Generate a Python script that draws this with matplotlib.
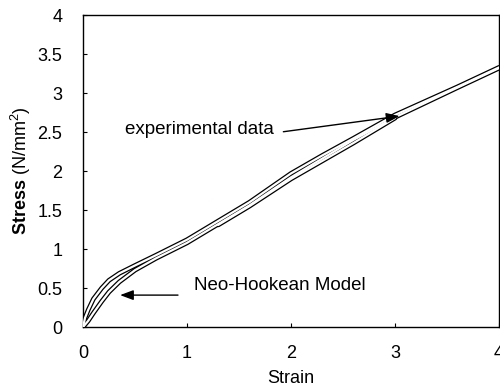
import matplotlib
matplotlib.use("Agg")
import matplotlib.pyplot as plt
import numpy as np

plt.rcParams['font.family'] = ['Liberation Sans', 'DejaVu Sans']
plt.rcParams['mathtext.fontset'] = 'custom'
plt.rcParams['mathtext.rm'] = 'Liberation Sans'
plt.rcParams['mathtext.bf'] = 'Liberation Sans:bold'

# Experimental data (loading curve, upper branch)
exp_strain = [0.0, 0.02, 0.05, 0.1, 0.18, 0.25, 0.35, 0.5, 0.7, 1.0, 1.3, 1.6, 2.0, 2.3, 2.6, 3.0, 3.3, 3.6, 4.0]
exp_stress = [0.0, 0.12, 0.22, 0.36, 0.5, 0.6, 0.69, 0.79, 0.92, 1.12, 1.36, 1.6, 1.97, 2.2, 2.42, 2.72, 2.9, 3.08, 3.33]
# Experimental data (unloading branch)
exp2_strain = [1.3, 1.6, 2.0, 2.3, 2.6, 3.0]
exp2_stress = [1.31, 1.55, 1.9, 2.13, 2.36, 2.68]
# Neo-Hookean model
model_strain = [0.0, 0.05, 0.1, 0.18, 0.25, 0.35, 0.5, 0.7, 1.0, 1.3, 1.6, 2.0, 2.3, 2.6, 3.0, 3.3, 3.6, 4.0]
model_stress = [0.0, 0.08, 0.18, 0.33, 0.45, 0.58, 0.73, 0.88, 1.08, 1.32, 1.56, 1.92, 2.16, 2.4, 2.69, 2.88, 3.07, 3.32]

x_ticks = [0, 1, 2, 3, 4]
y_ticks = [0, 0.5, 1, 1.5, 2, 2.5, 3, 3.5, 4]
y_labels = ['0', '0.5', '1', '1.5', '2', '2.5', '3', '3.5', '4']

fig = plt.figure(figsize=(5.0, 3.88), dpi=100)
ax = fig.add_axes([0.166, 0.157, 0.832, 0.804])

def outlined(x, y):
    ax.plot(x, y, color='black', lw=3.4, solid_capstyle='round', zorder=2)
    ax.plot(x, y, color='white', lw=1.6, solid_capstyle='round', zorder=3)

outlined(model_strain, model_stress)
outlined(exp2_strain, exp2_stress)
outlined(exp_strain, exp_stress)

ax.set_xlim(0, 4)
ax.set_ylim(0, 4)
ax.set_xticks(x_ticks)
ax.set_xticklabels([str(v) for v in x_ticks])
ax.set_yticks(y_ticks)
ax.set_yticklabels(y_labels)
ax.tick_params(direction='in', length=3, width=0.8, labelsize=13, pad=13)
ax.tick_params(axis='y', pad=15)
for s in ax.spines.values():
    s.set_linewidth(1.0)

ax.set_xlabel('Strain', fontsize=13, labelpad=6)
ax.set_ylabel(r'$\mathbf{Stress}$ (N/mm$^2$)', fontsize=13, labelpad=3)

ax.annotate('', xy=(3.07, 2.71), xytext=(1.9, 2.5),
            arrowprops=dict(arrowstyle='-|>,head_length=0.8,head_width=0.3', color='black', lw=1.0))
ax.text(0.4, 2.53, 'experimental data', fontsize=13.5, va='center', ha='left')

ax.annotate('', xy=(0.33, 0.41), xytext=(0.94, 0.41),
            arrowprops=dict(arrowstyle='-|>,head_length=0.8,head_width=0.3', color='black', lw=1.0))
ax.text(1.07, 0.53, 'Neo-Hookean Model', fontsize=13.5, va='center', ha='left')

fig.savefig('out.png', dpi=100)
